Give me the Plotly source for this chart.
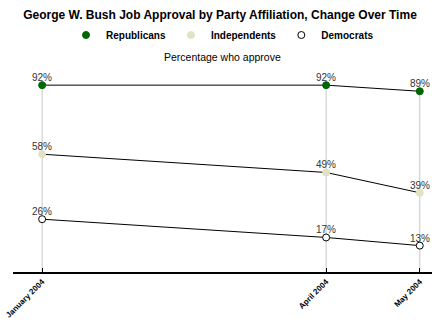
import plotly.graph_objects as go

dates = ["2004-01-01", "2004-04-01", "2004-05-01"]
tick_labels = ["January 2004", "April 2004", "May 2004"]
series_names = ["Republicans", "Independents", "Democrats"]
republicans = [92, 92, 89]
independents = [58, 49, 39]
democrats = [26, 17, 13]

series_values = [republicans, independents, democrats]
marker_fill = ["#006600", "#e3e1c3", "#ffffff"]
marker_line = ["#006600", "#e3e1c3", "#000000"]

FONT = "Liberation Sans, Arial"

fig = go.Figure()

# drop lines from axis to highest point at each date
for i, d in enumerate(dates):
    top = max(s[i] for s in series_values)
    fig.add_trace(go.Scatter(x=[d, d], y=[0, top], mode="lines",
                             line=dict(color="#c8c8c8", width=1),
                             showlegend=False, hoverinfo="skip"))

annotations = []
for name, vals, fc, lc in zip(series_names, series_values, marker_fill, marker_line):
    fig.add_trace(go.Scatter(
        x=dates, y=vals, mode="lines+markers",
        line=dict(color="black", width=1),
        marker=dict(size=7, color=fc, line=dict(color=lc, width=1)),
        showlegend=False, cliponaxis=False))
    fig.add_trace(go.Scatter(
        x=[None], y=[None], mode="markers", name=name,
        marker=dict(size=7, color=fc, line=dict(color=lc, width=1))))
    for d, v in zip(dates, vals):
        annotations.append(dict(x=d, y=v, xref="x", yref="y", text=f"{v}%",
                                showarrow=False, xanchor="center", yanchor="bottom",
                                yshift=0, font=dict(family=FONT, size=10, color="#333333")))

top_m, bot_m = 75, 53
plot_h = 325 - top_m - bot_m

annotations.append(dict(text="Percentage who approve", xref="paper", yref="paper",
                        x=0.5, xanchor="center", y=(325 - bot_m - 57) / plot_h, yanchor="middle",
                        showarrow=False,
                        font=dict(family=FONT, size=10.5, color="black")))

fig.update_layout(
    width=440, height=325,
    margin=dict(l=13, r=8, t=top_m, b=bot_m, autoexpand=False),
    paper_bgcolor="white", plot_bgcolor="white",
    title=dict(text="<b>George W. Bush Job Approval by Party Affiliation, Change Over Time</b>",
               x=0.5, xanchor="center", y=1 - 15 / 325, yanchor="middle",
               font=dict(family=FONT, size=12, color="black")),
    legend=dict(orientation="h", x=0.5, xanchor="center", yref="container",
                y=1 - 35 / 325, yanchor="middle", itemwidth=30,
                font=dict(family=FONT, size=10, color="black", weight="bold")),
    xaxis=dict(type="date", range=["2003-12-22 16:00", "2004-05-04 22:00"],
               tickvals=dates, ticktext=tick_labels, tickangle=-45,
               ticklabeloverflow="allow", automargin=False,
               tickfont=dict(family=FONT, size=8, color="black", weight="bold"),
               showgrid=False, zeroline=False, showline=True, linecolor="black", linewidth=2,
               ticks="inside", ticklen=4, tickcolor="black", tickwidth=1),
    yaxis=dict(range=[0, 97], visible=False, showgrid=False, zeroline=False, automargin=False),
    annotations=annotations,
)

fig.write_html("out.html")
